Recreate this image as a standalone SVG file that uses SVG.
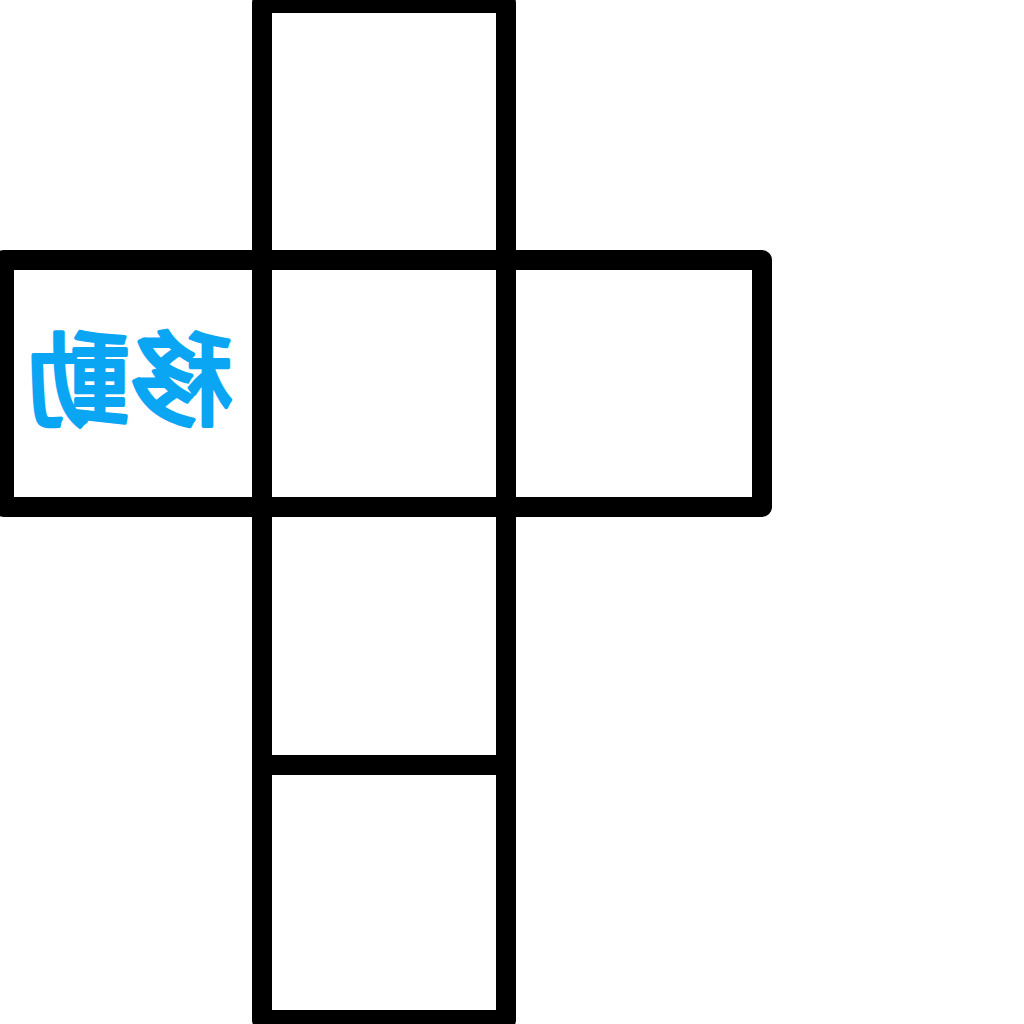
<svg xmlns="http://www.w3.org/2000/svg" width="1024" height="1024" viewBox="0 0 1024 1024">
<style>
.face{fill:none;stroke:#000;stroke-width:20;stroke-linejoin:round}
.lbl{font-family:"Noto Sans CJK JP","Noto Sans CJK SC",sans-serif;font-weight:400;font-size:103px;fill:#0AA6F4;stroke:#0AA6F4;stroke-width:4;stroke-linejoin:round;stroke-linecap:round;text-anchor:middle}
</style>
<rect width="1024" height="1024" fill="#fff"/>
<g id="face-top"><rect class="face" x="262" y="3" width="244" height="257"/></g>
<g id="face-left"><rect class="face" x="4" y="260" width="258" height="247"/>
<text class="lbl" transform="scale(-1,1)" x="-130" y="418">移動</text></g>
<g id="face-center"><rect class="face" x="262" y="260" width="244" height="247"/></g>
<g id="face-right"><rect class="face" x="506" y="260" width="256" height="247"/></g>
<g id="face-lower"><rect class="face" x="262" y="507" width="244" height="258"/></g>
<g id="face-bottom"><rect class="face" x="262" y="765" width="244" height="255"/></g>
<g id="connectors"></g>
</svg>
